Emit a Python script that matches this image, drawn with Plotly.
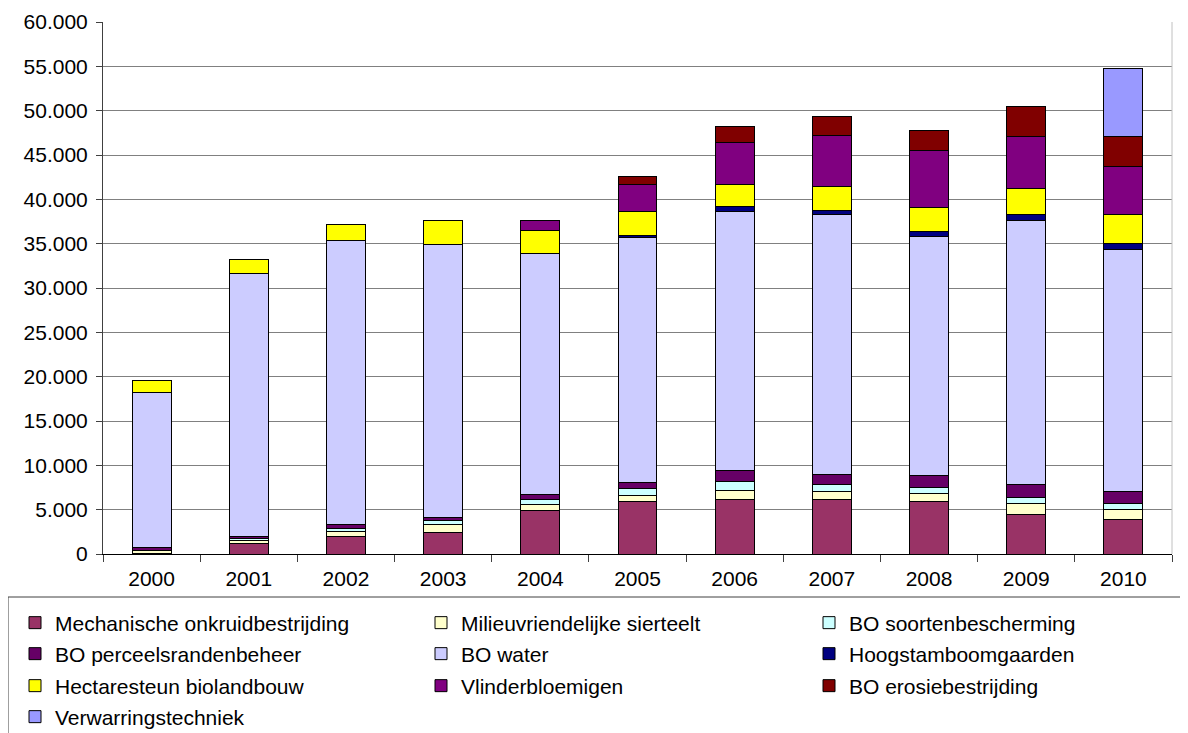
import plotly.graph_objects as go

# ==========================================================
# DATA
# ==========================================================

years = ["2000", "2001", "2002", "2003", "2004", "2005",
         "2006", "2007", "2008", "2009", "2010"]

mechanische = [100, 1200, 1970, 2460, 4920, 5870, 6170, 6130, 5870, 4510, 3860]
milieuvriendelijk = [250, 300, 570, 830, 680, 680, 1020, 910, 950, 1140, 1210]
soortenbescherming = [50, 200, 380, 450, 530, 800, 990, 760, 680, 760, 650]
perceelsranden = [300, 250, 430, 380, 540, 710, 1290, 1210, 1320, 1440, 1290]
bo_water = [17500, 29650, 31970, 30740, 27220, 27640, 29200, 29280, 26950, 29800, 27330]
hoogstam = [None, None, None, None, None, 260, 490, 490, 560, 680, 680]
biolandbouw = [1400, 1600, 1800, 2790, 2630, 2710, 2520, 2710, 2710, 2860, 3280]
vlinderbloemigen = [None, None, None, None, 1050, 3010, 4740, 5720, 6480, 5870, 5370]
erosie = [None, None, None, None, None, 940, 1770, 2180, 2290, 3380, 3390]
verwarring = [None, None, None, None, None, None, None, None, None, None, 7640]

series_names = [
    "Mechanische onkruidbestrijding",
    "Milieuvriendelijke sierteelt",
    "BO soortenbescherming",
    "BO perceelsrandenbeheer",
    "BO water",
    "Hoogstamboomgaarden",
    "Hectaresteun biolandbouw",
    "Vlinderbloemigen",
    "BO erosiebestrijding",
    "Verwarringstechniek",
]

series_values = [
    mechanische, milieuvriendelijk, soortenbescherming, perceelsranden,
    bo_water, hoogstam, biolandbouw, vlinderbloemigen, erosie, verwarring,
]

series_colors = [
    "#993366", "#FFFFCC", "#CCFFFF", "#660066", "#CCCCFF",
    "#000080", "#FFFF00", "#800080", "#800000", "#9999FF",
]

# the page body adds an 8px offset, so the figure is a little smaller
W, H = 1180, 725

# legend entry positions (figure pixels): column x, row y
legend_cols = [7, 413, 801]
legend_rows = [615, 646, 678, 709]

FONT = dict(family="Liberation Sans, Arial, sans-serif", size=21, color="black")

# ==========================================================
# FIGURE
# ==========================================================

fig = go.Figure()

legend_layout = {}

for i, (name, vals, col) in enumerate(zip(series_names, series_values, series_colors)):

    key = "legend" if i == 0 else "legend%d" % (i + 1)

    fig.add_trace(

        go.Bar(
            x=years,
            y=vals,
            name=name,
            marker=dict(color=col, line=dict(color="black", width=1)),
            legend=key,
        )

    )

    legend_layout[key] = dict(
        x=legend_cols[i % 3] / W,
        y=1 - legend_rows[i // 3] / H,
        xref="container",
        yref="container",
        xanchor="left",
        yanchor="middle",
        bgcolor="rgba(0,0,0,0)",
        borderwidth=0,
        font=FONT,
    )

fig.update_layout(

    width=W,
    height=H,
    barmode="stack",
    bargap=0.6,
    separators=",.",
    paper_bgcolor="white",
    plot_bgcolor="white",
    font=FONT,
    showlegend=True,
    margin=dict(l=95, r=16, t=14, b=179, autoexpand=False),

    xaxis=dict(
        type="category",
        showline=True,
        linecolor="black",
        linewidth=1,
        ticks="outside",
        tickson="boundaries",
        ticklen=7,
        tickcolor="#404040",
        showgrid=False,
        tickfont=FONT,
        tickangle=0,
        ticklabelstandoff=6,
    ),

    yaxis=dict(
        range=[0, 60000],
        dtick=5000,
        tickformat=",d",
        showline=True,
        linecolor="#404040",
        linewidth=1,
        ticks="outside",
        ticklen=6,
        tickcolor="#404040",
        showgrid=True,
        gridcolor="#808080",
        gridwidth=1,
        zeroline=False,
        tickfont=FONT,
        ticklabelstandoff=4,
    ),

    **legend_layout,
)

# plot area right edge and legend frame
fig.add_shape(
    type="line", xref="paper", yref="paper",
    x0=1, x1=1, y0=0, y1=1,
    line=dict(color="#c0c0c0", width=1),
)

fig.add_shape(
    type="rect", xref="paper", yref="paper",
    x0=(0 - 95) / 1069, x1=(1200 - 95) / 1069,
    y0=(546 - 760) / 532, y1=(546 - 589) / 532,
    line=dict(color="#404040", width=1),
)

fig.write_html("out.html")
